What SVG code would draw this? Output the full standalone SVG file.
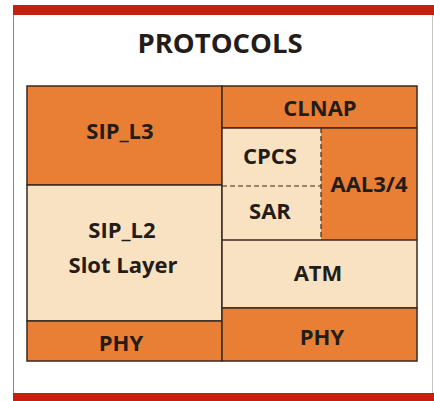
<svg xmlns="http://www.w3.org/2000/svg" width="434" height="401" viewBox="0 0 434 401">
<style>
.dark{fill:#E97F35;stroke:#3a2a22;stroke-width:1.5}
.light{fill:#F9E2C2;stroke:#3a2a22;stroke-width:1.5}
.lbl{font-family:"Open Sans","Liberation Sans",sans-serif;font-weight:bold;font-size:22px;fill:#231c18;text-anchor:middle}
.dash{stroke:#3a2a22;stroke-width:1.2;stroke-dasharray:5 3;fill:none}
</style>
<rect x="0" y="0" width="434" height="401" fill="#ffffff"/>
<line x1="13.5" y1="10" x2="13.5" y2="398" stroke="#8a8580" stroke-width="1"/>
<line x1="432.5" y1="10" x2="432.5" y2="398" stroke="#c8c4c0" stroke-width="1"/>
<rect x="13" y="5" width="421" height="10" fill="#C4200F"/>
<rect x="13" y="393" width="421" height="8" fill="#C4200F"/>
<text x="220" y="53" font-family="Open Sans, Liberation Sans, sans-serif" font-weight="bold" font-size="27.5" fill="#231c18" text-anchor="middle">PROTOCOLS</text>
<g id="sip_l3"><rect class="dark" x="27" y="86" width="195" height="99"/><text class="lbl" x="120" y="139">SIP_L3</text></g>
<g id="sip_l2"><rect class="light" x="27" y="185" width="195" height="136"/><text class="lbl" x="122" y="238">SIP_L2</text><text class="lbl" x="123" y="273">Slot Layer</text></g>
<g id="phy_left"><rect class="dark" x="27" y="321" width="195" height="40"/><text class="lbl" x="121" y="351">PHY</text></g>
<g id="clnap"><rect class="dark" x="222" y="86" width="195" height="42"/><text class="lbl" x="320" y="116">CLNAP</text></g>
<g id="cpcs"><rect fill="#F9E2C2" x="222" y="128" width="99" height="58"/><text class="lbl" x="270" y="164">CPCS</text></g>
<g id="sar"><rect fill="#F9E2C2" x="222" y="186" width="99" height="54"/><text class="lbl" x="270" y="219">SAR</text></g>
<g id="aal34"><rect fill="#E97F35" x="321" y="128" width="96" height="112"/><text class="lbl" x="369" y="192">AAL3/4</text></g>
<g id="atm"><rect class="light" x="222" y="240" width="195" height="68"/><text class="lbl" x="318" y="281">ATM</text></g>
<g id="phy_right"><rect class="dark" x="222" y="308" width="195" height="53"/><text class="lbl" x="322" y="345">PHY</text></g>
<g id="connectors">
<line class="dash" x1="222" y1="186" x2="321" y2="186"/>
<line class="dash" x1="321" y1="128" x2="321" y2="240"/>
<line x1="222" y1="128" x2="417" y2="128" stroke="#3a2a22" stroke-width="1.5"/>
<line x1="417" y1="128" x2="417" y2="240" stroke="#3a2a22" stroke-width="1.5"/>
<line x1="222" y1="128" x2="222" y2="240" stroke="#3a2a22" stroke-width="1.5"/>
</g>
</svg>
